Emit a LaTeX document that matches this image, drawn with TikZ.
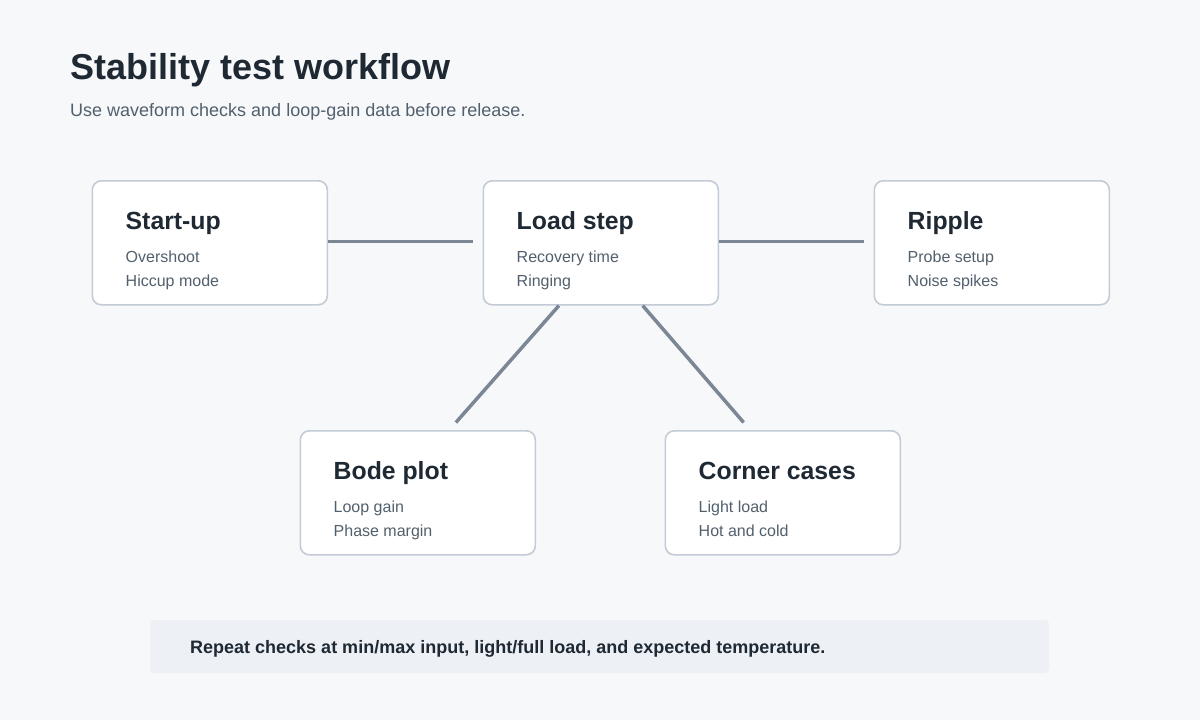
\documentclass[tikz,border=0pt]{standalone}
\usepackage{fontspec}
\setmainfont{Liberation Sans}
\usetikzlibrary{calc,positioning}
\definecolor{pagebg}{HTML}{F7F8FA}
\definecolor{boxline}{HTML}{C3CBD6}
\definecolor{linkgray}{HTML}{7B8794}
\definecolor{inkdark}{HTML}{1F2933}
\definecolor{inksoft}{HTML}{52606D}
\definecolor{notefill}{HTML}{EDF0F5}
\tikzset{
  stagebox/.style={draw=boxline, line width=1.6pt, fill=white, rounded corners=9pt,
    minimum width=235pt, minimum height=124pt, anchor=north west, inner sep=0pt},
  stagetitle/.style={anchor=base west, inner sep=0pt, text=inkdark, font=\fontsize{24.8}{28}\selectfont\bfseries},
  stageline/.style={anchor=base west, inner sep=0pt, text=inksoft, font=\fontsize{16}{18}\selectfont},
  link/.style={draw=linkgray, line width=3.5pt, shorten >=10pt}
}
\newcommand{\stage}[5]{%
  \node[stagebox] (#1) at (#2) {};
  \node[stagetitle] (#1-t) at ($(#1.north west)+(34,49)$) {#3};
  \node[stageline] (#1-a) at ($(#1.north west)+(34,82)$) {#4};
  \node[stageline] (#1-b) at ($(#1.north west)+(34,106)$) {#5};
}
\begin{document}
\begin{tikzpicture}[x=1pt,y=-1pt]
		%%%%% page %%%%%
		\fill[pagebg] (0,0) rectangle (1200,720);
		\useasboundingbox (0,0) rectangle (1200,720);
		
		\node[anchor=base west, inner sep=0pt, text=inkdark, font=\fontsize{36}{40}\selectfont\bfseries] (title) at (70,79) {Stability test workflow};
		\node[anchor=base west, inner sep=0pt, text=inksoft, font=\fontsize{18}{20}\selectfont] (subtitle) at (70,116) {Use waveform checks and loop-gain data before release.};
		
		%%%%% stages %%%%%
		\stage{startup}{91.5,180}{Start-up}{Overshoot}{Hiccup mode}
		\stage{loadstep}{482.5,180}{Load step}{Recovery time}{Ringing}
		\stage{ripple}{873.5,180}{Ripple}{Probe setup}{Noise spikes}
		\stage{bode}{299.5,430}{Bode plot}{Loop gain}{Phase margin}
		\stage{corner}{664.5,430}{Corner cases}{Light load}{Hot and cold}
		
		%%%%% links %%%%%
		\draw[link] (startup.east |- 0,241.5) -- (loadstep.west |- 0,241.5);
		\draw[link] (loadstep.east |- 0,241.5) -- (ripple.west |- 0,241.5);
		\draw[link] ($(loadstep.south west)!0.323!(loadstep.south east)$) -- ($(bode.north west)!0.633!(bode.north east)$);
		\draw[link] ($(loadstep.south west)!0.677!(loadstep.south east)$) -- ($(corner.north west)!0.362!(corner.north east)$);
		
		%%%%% note %%%%%
		\fill[notefill, rounded corners=4pt] (150,620) rectangle (1049,673);
		\node[anchor=base west, inner sep=0pt, text=inkdark, font=\fontsize{18}{20}\selectfont\bfseries] (note) at (190,653) {Repeat checks at min/max input, light/full load, and expected temperature.};
		
\end{tikzpicture}
\end{document}
